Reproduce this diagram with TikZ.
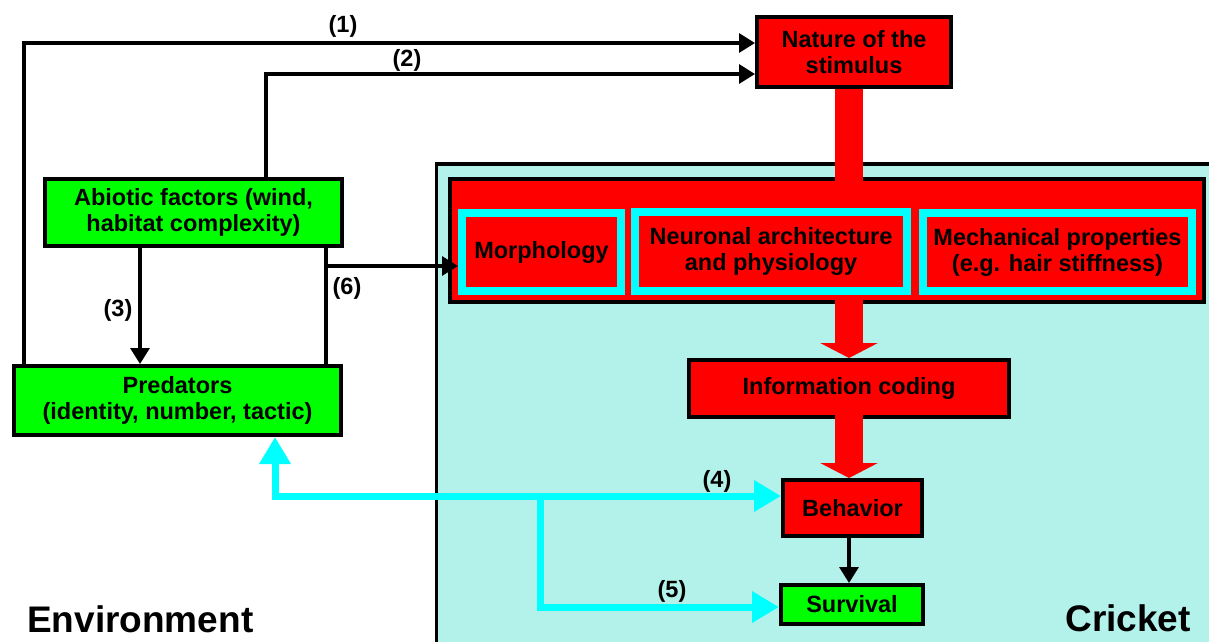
\documentclass[tikz,border=0pt]{standalone}
\usepackage{fontspec}
\setmainfont{Liberation Sans}
\usetikzlibrary{arrows.meta,calc}

\definecolor{cricketbg}{RGB}{178,242,234}
\definecolor{boxred}{RGB}{255,0,0}
\definecolor{boxgreen}{RGB}{0,255,0}
\definecolor{linkcyan}{RGB}{0,255,255}

\begin{document}
\begin{tikzpicture}[x=1pt,y=-1pt,
    redbox/.style={draw=black,line width=4pt,fill=boxred,inner sep=0pt,align=center,font=\boxfontsize},
    greenbox/.style={redbox,fill=boxgreen},
    partbox/.style={draw=linkcyan,line width=8pt,fill=boxred,inner sep=0pt,align=center,font=\boxfontsize},
    link/.style={draw=black,line width=3.2pt},
    linkarrow/.style={link,-{Triangle[width=19pt,length=16pt]}},
    redflow/.style={draw=boxred,line width=28pt},
    redflowarrow/.style={redflow,-{Triangle[width=57pt,length=15pt]}},
    cyanlink/.style={draw=linkcyan,line width=7pt},
    cyantip/.tip={Triangle[width=30pt,length=27pt]},
    lbl/.style={font=\boxfontsize,inner sep=0pt}]
    \providecommand{\boxfontsize}{\fontsize{23.5}{26}\selectfont\bfseries}
    \providecommand{\regionfontsize}{\fontsize{37}{40}\selectfont\bfseries}
    \useasboundingbox (0,0) rectangle (1209,641);
    % cricket side
    \fill[cricketbg] (436.5,164) rectangle (1215,650);
    \draw[line width=3.2pt] (436.5,650) -- (436.5,164) -- (1215,164);
    \node[redbox,minimum width=754,minimum height=123] (sensory) at (827,240.5) {};
    \node[partbox,minimum width=159,minimum height=78] (morph) at (541.5,252) {Morphology};
    \node[partbox,minimum width=272,minimum height=79] (neuro) at (771,251.5) {Neuronal architecture\\and physiology};
    \node[partbox,minimum width=269,minimum height=78] (mech) at (1057.5,252) {Mechanical properties\\(e.g. hair stiffness)};
    \node[redbox,minimum width=194,minimum height=70] (nature) at (854,52) {Nature of the\\stimulus};
    \node[redbox,minimum width=320,minimum height=57] (coding) at (849,388.5) {Information coding};
    \node[redbox,minimum width=139,minimum height=56] (behavior) at (852.5,508) {Behavior};
    \node[greenbox,minimum width=142,minimum height=39] (survival) at (852,604.5) {Survival};
    % environment side
    \node[greenbox,minimum width=297,minimum height=67] (abiotic) at (193.5,212.5) {Abiotic factors (wind,\\habitat complexity)};
    \node[greenbox,minimum width=327,minimum height=69] (predators) at (177.5,400.5) {Predators\\(identity, number, tactic)};
    % red flow
    \draw[redflow] (nature.south -| coding.center) -- ($(sensory.north -| coding.center)+(0,6)$);
    \draw[redflowarrow] ($(sensory.south -| coding.center)+(0,-6)$) -- (coding.north);
    \draw[redflowarrow] ($(coding.south)+(0,-4)$) -- (behavior.north -| coding.center);
    \draw[linkarrow] (behavior.south -| coding.center) -- (survival.north -| coding.center);
    % black links
    \draw[linkarrow] ($(predators.north west)+(12,0)$) |- ($(nature.west)+(0,-9)$);
    \draw[linkarrow] ($(abiotic.north)+(72.5,0)$) |- ($(nature.west)+(0,22)$);
    \coordinate (three) at ($(abiotic.south)+(-53.5,0)$);
    \draw[linkarrow] (three) -- (three |- predators.north);
    \coordinate (six) at ($(abiotic.south)+(132.5,0)$);
    \draw[link] (six) -- (six |- predators.north);
    \coordinate (sixbranch) at ($(six)+(-1.6,18)$);
    \draw[linkarrow] (sixbranch) -- (sixbranch -| morph.west);
    % cyan links
    \coordinate (turn) at (275,496);
    \coordinate (fork) at (540,496);
    \draw[cyanlink,cyantip-cyantip] (turn |- predators.south) -- (turn) -- (turn -| behavior.west);
    \draw[cyanlink,-cyantip] (fork) |- ($(survival.west)+(0,2.5)$);
    % labels
    \node[lbl] (one) at (343,26) {(1)};
    \node[lbl] (two) at (407,60) {(2)};
    \node[lbl] (three label) at (118,310) {(3)};
    \node[lbl] (four) at (717,481) {(4)};
    \node[lbl] (five) at (672,591) {(5)};
    \node[lbl] (six label) at (347,288) {(6)};
    \node[font=\regionfontsize,anchor=base west,inner sep=0pt] (environment) at (27,632) {Environment};
    \node[font=\regionfontsize,anchor=base east,inner sep=0pt] (cricket) at (1191,631) {Cricket};
\end{tikzpicture}
\end{document}
